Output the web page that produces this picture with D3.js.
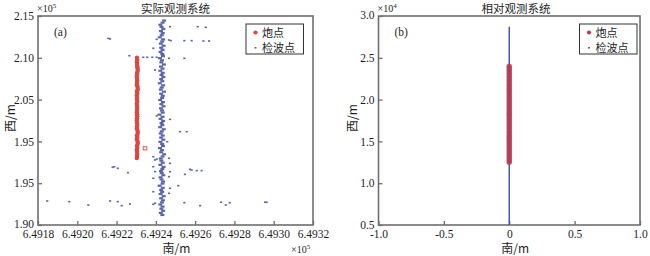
<!DOCTYPE html>
<html><head><meta charset="utf-8">
<script src="https://cdn.jsdelivr.net/npm/d3@7"></script>
<style>body{margin:0;background:#fff}</style>
</head><body><svg id="c" width="650" height="256"></svg>
<script>
// ---------- texts ----------
const titles = ["实际观测系统", "相对观测系统"];
const panelTags = ["(a)", "(b)"];
const legendLabels = ["炮点", "检波点"];
const xAxisTitle = "南/m";
const yAxisTitle = "西/m";

// ---------- ticks ----------
const xTicksA = [6.4918, 6.4920, 6.4922, 6.4924, 6.4926, 6.4928, 6.4930, 6.4932];
const xTickLabelsA = ["6.4918", "6.4920", "6.4922", "6.4924", "6.4926", "6.4928", "6.4930", "6.4932"];
const yTicksA = [2.15, 2.10, 2.05, 2.00, 1.95, 1.90];
const yTickLabelsA = ["2.15", "2.10", "2.05", "1.95", "1.95", "1.90"];
const xTicksB = [-1.0, -0.5, 0, 0.5, 1.0];
const xTickLabelsB = ["-1.0", "-0.5", "0", "0.5", "1.0"];
const yTicksB = [0.5, 1.0, 1.5, 2.0, 2.5, 3.0];
const yTickLabelsB = ["0.5", "1.0", "1.5", "2.0", "2.5", "3.0"];

// ---------- panel (a): actual geometry, units x10^5 m ----------
// shot line
const shotXA = 6.492304;
const shotYA = [2.100,2.0975,2.095,2.0925,2.090,2.0875,2.085,2.0825,2.080,2.0775,2.075,2.0725,2.070,2.0675,2.065,2.0625,2.060,2.0575,2.055,2.0525,2.050,2.0475,2.045,2.0425,2.040,2.0375,2.035,2.0325,2.030,2.0275,2.025,2.0225,2.020,2.0175,2.015,2.0125,2.010,2.0075,2.005,2.0025,2.000,1.9975,1.995,1.9925,1.990,1.9875,1.985,1.9825,1.980];
const shotDxA = [0,1,-1,0,1,3,4,1,0,-1, 0,1,0,-1,3,4,0,1,-1,0, 0,1,-1,0,1,0,-1,0,1,0, -1,0,1,0,-1,3,4,0,1,-1, 3,4,0,1,-1,0,1,0,-1]; // x1e-6
const shotOutlierA = [[6.492345, 1.9917]];

// receiver line
const recvXA = 6.492430;
const recvYA = [
1.9120,1.9145,1.9170,1.9195,1.9220,1.9245,1.9270,1.9295,1.9320,1.9345,
1.9370,1.9395,1.9420,1.9445,1.9470,1.9495,1.9520,1.9545,1.9570,1.9595,
1.9620,1.9645,1.9670,1.9695,1.9720,1.9745,1.9770,1.9795,1.9820,1.9845,
1.9870,1.9895,1.9920,1.9945,1.9970,1.9995,2.0020,2.0045,2.0070,2.0095,
2.0120,2.0145,2.0170,2.0195,2.0220,2.0245,2.0270,2.0295,2.0320,2.0345,
2.0370,2.0395,2.0420,2.0445,2.0470,2.0495,2.0520,2.0545,2.0570,2.0595,
2.0620,2.0645,2.0670,2.0695,2.0720,2.0745,2.0770,2.0795,2.0820,2.0845,
2.0870,2.0895,2.0920,2.0945,2.0970,2.0995,2.1020,2.1045,2.1070,2.1095,
2.1120,2.1145,2.1170,2.1195,2.1220,2.1245,2.1270,2.1295,2.1320,2.1345,
2.1370,2.1395,2.1420,2.1445];
const recvDxA = [
3,-5,7,-2,4,-7,1,6,-3,10,
-6,2,-3,5,-11,4,7,-1,-6,8,
0,-4,3,9,-7,5,-2,-5,4,12,
-3,1,-9,6,2,-7,8,-3,5,-5,
0,10,-8,3,-1,7,-6,4,-12,5,
1,-4,9,-2,6,-8,2,5,-3,11,
-5,0,7,-10,3,-3,8,-1,5,-7,
4,-4,11,-2,1,-9,6,3,-6,4,
-3,9,-5,2,7,-10,0,5,-4,8,
-1,-7,4,12]; // x1e-6

// scattered receivers
const recvScatterA = [
[6.491847,1.9287],[6.491959,1.9279],[6.492056,1.9239],
[6.492158,2.1233],[6.492167,2.1225],
[6.492472,2.1372],[6.492613,2.1372],[6.492654,2.1365],
[6.492404,2.1221],[6.492467,2.1213],[6.492476,2.1205],
[6.492545,2.1205],[6.492582,2.1205],[6.492642,2.1201],[6.492671,2.1201],
[6.492387,2.1114],
[6.492265,2.1025],[6.492302,2.1006],[6.492336,2.1006],[6.492356,2.1006],[6.492382,2.1006],[6.492404,2.1006],
[6.492467,2.0994],[6.492545,2.0994],
[6.492396,2.0854],
[6.492404,2.0304],[6.492472,2.0264],
[6.492523,2.0116],[6.492557,2.0116],
[6.492458,1.9996],
[6.492387,1.9817],[6.492396,1.9778],[6.492404,1.9789],
[6.492467,1.9798],[6.492472,1.9738],
[6.492180,1.9690],[6.492188,1.9697],[6.492206,1.9678],
[6.492258,1.9626],
[6.492387,1.9697],[6.492396,1.9638],[6.492387,1.9559],
[6.492472,1.9638],[6.492467,1.9578],
[6.492574,1.9666],[6.492582,1.9658],[6.492608,1.9650],[6.492633,1.9650],
[6.492548,1.9606],
[6.492514,1.9470],
[6.492387,1.9398],
[6.492472,1.9439],[6.492467,1.9379],
[6.492167,1.9287],[6.492206,1.9279],[6.492226,1.9231],[6.492268,1.9251],
[6.492387,1.9248],[6.492396,1.9260],
[6.492545,1.9267],[6.492625,1.9231],
[6.492732,1.9272],[6.492756,1.9239],[6.492776,1.9267],
[6.492956,1.9272],[6.492964,1.9272]];

// ---------- panel (b): relative geometry, units x10^4 m ----------
const shotXB = 0;
const shotYB = [
1.250,1.275,1.300,1.325,1.350,1.375,1.400,1.425,1.450,1.475,
1.500,1.525,1.550,1.575,1.600,1.625,1.650,1.675,1.700,1.725,
1.750,1.775,1.800,1.825,1.850,1.875,1.900,1.925,1.950,1.975,
2.000,2.025,2.050,2.075,2.100,2.125,2.150,2.175,2.200,2.225,
2.250,2.275,2.300,2.325,2.350,2.375,2.400];
const recvLineB = [[0, 0.5], [0, 2.87]];

// ---------- drawing ----------
const svg = d3.select("#c");
const serif = "'Liberation Serif','DejaVu Serif',serif";
const cjk = "'Noto Sans CJK SC','Noto Sans',sans-serif";
const axisGray = "#6e6e6e";
const textCol = "#1e1e1e";
const blue = "#5966ad";
const redA = "#e04640";
const redB = "#b33d58";

const panels = [
  {x0:38, x1:313, y0:16, y1:225,
   xd:[6.4918,6.4932], yd:[1.90,2.15],
   xt:xTicksA, xl:xTickLabelsA, yt:yTicksA, yl:yTickLabelsA,
   title:titles[0], titleX:175.5, tag:panelTags[0], exp:"5", xExp:true,
   legX:246, yTitleX:14.5},
  {x0:378.5, x1:640, y0:16, y1:225,
   xd:[-1,1], yd:[0.5,3.0],
   xt:xTicksB, xl:xTickLabelsB, yt:yTicksB, yl:yTickLabelsB,
   title:titles[1], titleX:516, tag:panelTags[1], exp:"4", xExp:false,
   legX:579.5, yTitleX:357}
];

panels.forEach((p, i) => {
  p.x = d3.scaleLinear().domain(p.xd).range([p.x0, p.x1]);
  p.y = d3.scaleLinear().domain(p.yd).range([p.y1, p.y0]);
  const g = svg.append("g");

  // axes with inward ticks
  const ax = d3.axisBottom(p.x).tickValues(p.xt).tickFormat((d, k) => p.xl[k])
    .tickSizeInner(-4).tickSizeOuter(0).tickPadding(5);
  const gx = g.append("g").attr("transform", `translate(0,${p.y1})`).call(ax);
  const ay = d3.axisLeft(p.y).tickValues(p.yt).tickFormat((d, k) => p.yl[k])
    .tickSizeInner(-4).tickSizeOuter(0).tickPadding(4);
  const gy = g.append("g").attr("transform", `translate(${p.x0},0)`).call(ay);
  [gx, gy].forEach(a => {
    a.select(".domain").remove();
    a.selectAll(".tick line").attr("stroke", axisGray).attr("stroke-width", 1.3);
    a.selectAll(".tick text").attr("fill", textCol).style("font-family", serif).style("font-size", "11.5px");
  });
  // keep the bottom-most y label clear of the first x label
  gy.selectAll(".tick text").filter((d, k) => k === p.yt.length - 1).attr("dy", "0.2em");

  // frame
  g.append("rect").attr("x", p.x0).attr("y", p.y0)
    .attr("width", p.x1 - p.x0).attr("height", p.y1 - p.y0)
    .attr("fill", "none").attr("stroke", axisGray).attr("stroke-width", 1.6);

  // title
  g.append("text").attr("x", p.titleX).attr("y", 13).attr("text-anchor", "middle")
    .style("font-family", cjk).style("font-size", "11.5px").attr("fill", textCol).text(p.title);

  // exponent on y axis
  const ey = g.append("text").attr("x", p.x0 - 1).attr("y", 11.5)
    .style("font-family", serif).style("font-size", "10px").attr("fill", textCol);
  ey.append("tspan").text("×10");
  ey.append("tspan").attr("dy", -4).style("font-size", "7px").text(p.exp);
  if (p.xExp) {
    const ex = g.append("text").attr("x", 291).attr("y", 252.5)
      .style("font-family", serif).style("font-size", "10px").attr("fill", textCol);
    ex.append("tspan").text("×10");
    ex.append("tspan").attr("dy", -4).style("font-size", "7px").text(p.exp);
  }

  // axis titles
  g.append("text").attr("x", (p.x0 + p.x1) / 2 + (i === 0 ? 1 : 6)).attr("y", 253)
    .attr("text-anchor", "middle").style("font-family", cjk).style("font-size", "12px")
    .attr("fill", textCol).text(xAxisTitle);
  g.append("text").attr("transform", `translate(${p.yTitleX},118) rotate(-90)`)
    .attr("text-anchor", "middle").style("font-family", cjk).style("font-size", "12px")
    .attr("fill", textCol).text(yAxisTitle);

  // panel tag
  g.append("text").attr("x", p.x0 + 16).attr("y", 35.5)
    .style("font-family", serif).style("font-size", "11.5px").attr("fill", textCol).text(p.tag);
});

// ---- panel (a) marks ----
const A = panels[0];
const ga = svg.append("g");
ga.selectAll("rect.rc").data(recvYA).join("rect").attr("class", "rc")
  .attr("x", (d, k) => A.x(recvXA + recvDxA[k] * 1e-6) - 2)
  .attr("y", d => A.y(d) - 1.1).attr("width", 4).attr("height", 2.2)
  .attr("fill", blue);
ga.selectAll("rect.rs").data(recvScatterA).join("rect").attr("class", "rs")
  .attr("x", d => A.x(d[0]) - 1.1).attr("y", d => A.y(d[1]) - 0.8)
  .attr("width", 2.2).attr("height", 1.6).attr("fill", blue);
ga.selectAll("circle.sh").data(shotYA).join("circle").attr("class", "sh")
  .attr("cx", (d, k) => A.x(shotXA + shotDxA[k] * 1e-6))
  .attr("cy", d => A.y(d)).attr("r", 2.2).attr("fill", redA);
ga.selectAll("rect.so").data(shotOutlierA).join("rect").attr("class", "so")
  .attr("x", d => A.x(d[0]) - 1.8).attr("y", d => A.y(d[1]) - 1.6)
  .attr("width", 3.6).attr("height", 3.2).attr("fill", "none").attr("stroke", redA).attr("stroke-width", 0.9);

// ---- panel (b) marks ----
const B = panels[1];
const gb = svg.append("g");
gb.append("path").datum(recvLineB)
  .attr("d", d3.line().x(d => B.x(d[0])).y(d => B.y(d[1])))
  .attr("stroke", "#4a58a8").attr("stroke-width", 1.5).attr("fill", "none");
gb.selectAll("circle").data(shotYB).join("circle")
  .attr("cx", B.x(shotXB)).attr("cy", d => B.y(d)).attr("r", 2.7)
  .attr("fill", redB).attr("fill-opacity", 0.85);

// ---- legends ----
panels.forEach((p, i) => {
  const lg = svg.append("g").attr("transform", `translate(${p.legX},24)`);
  lg.append("rect").attr("width", 57.5).attr("height", 30).attr("fill", "#fff")
    .attr("stroke", "#333").attr("stroke-width", 1);
  lg.append("circle").attr("cx", 9.5).attr("cy", 8.5).attr("r", 2.1).attr("fill", i === 0 ? redA : redB);
  lg.append("rect").attr("x", 8.5).attr("y", 23).attr("width", 2).attr("height", 1.6).attr("fill", blue);
  lg.append("text").attr("x", 16).attr("y", 12.5).style("font-family", cjk).style("font-size", "11px")
    .attr("fill", textCol).text(legendLabels[0]);
  lg.append("text").attr("x", 16).attr("y", 27.5).style("font-family", cjk).style("font-size", "11px")
    .attr("fill", textCol).text(legendLabels[1]);
});
</script>
</body></html>
